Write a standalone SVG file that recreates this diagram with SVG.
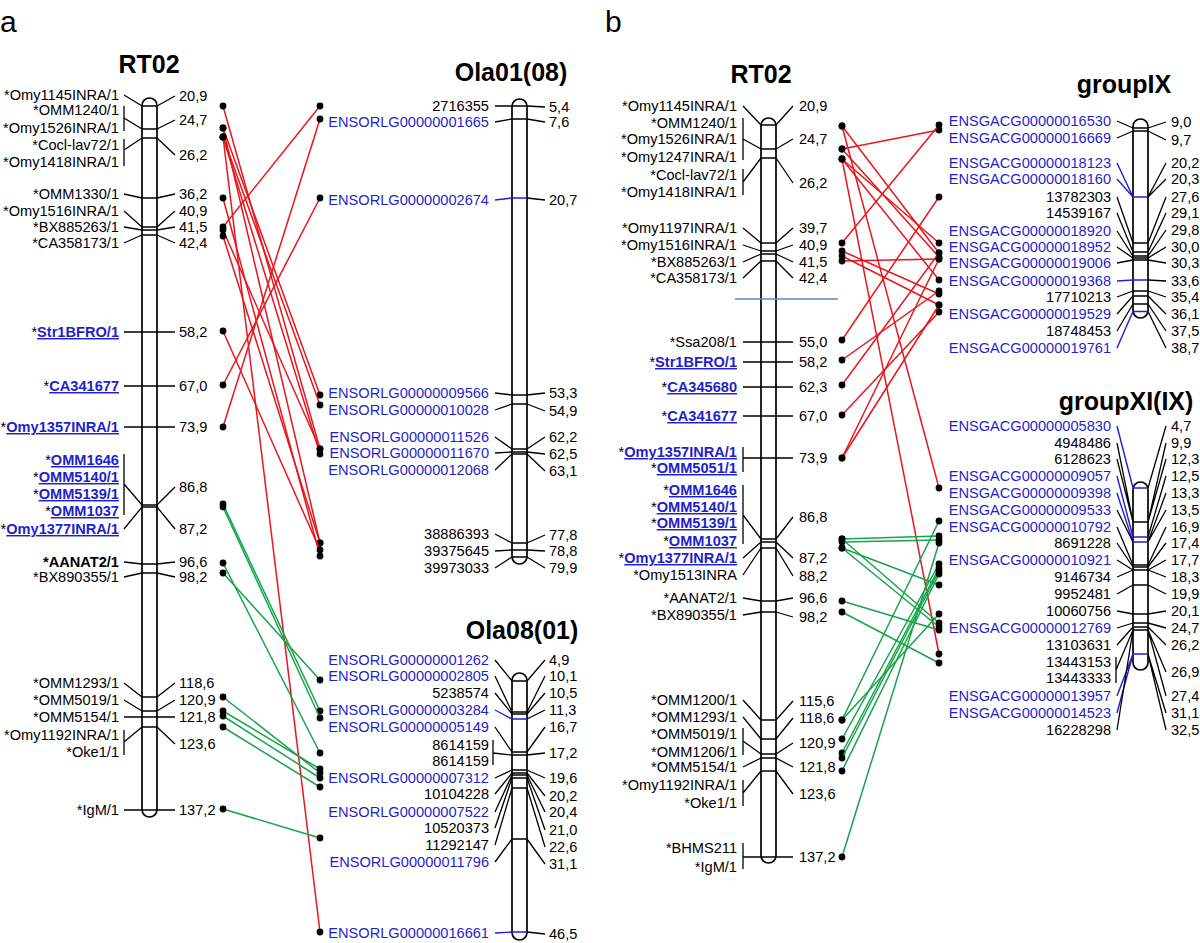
<svg xmlns="http://www.w3.org/2000/svg" width="1200" height="943" viewBox="0 0 1200 943">
<style>
text{font-family:"Liberation Sans",Arial,Helvetica,sans-serif;font-size:14.6px;fill:#000}
.e{text-anchor:end}
.m{text-anchor:middle}
.bl{fill:#1f1fcc}
.lk{fill:#1f1fcc;font-weight:bold;text-decoration:underline}
.bd{font-weight:bold}
.ttl{font-size:25px;font-weight:bold}
.pl{font-size:30px}
.chr{fill:#fff;stroke:#000;stroke-width:1.7}
.k{stroke:#000;stroke-width:1.3;fill:none}
.kb{stroke:#1f1fcc;stroke-width:1.4;fill:none}
.r{stroke:#e8161c;stroke-width:1.5;fill:none}
.g{stroke:#17a34a;stroke-width:1.5;fill:none}
.sb{stroke:#5a86c0;stroke-width:1.5}
</style>
<defs>
<marker id="dot" viewBox="-4 -4 8 8" markerWidth="8" markerHeight="8" markerUnits="userSpaceOnUse"><circle r="3.4" fill="#000"/></marker>
</defs>
<text class="pl" x="0" y="32">a</text>
<text class="pl" x="605" y="32">b</text>

<!-- Panel a: RT02 -->
<g id="a-RT02">
<text class="ttl m" x="149" y="73">RT02</text>
<path class="chr" d="M142,105.5A7.5,7.5 0 0 1 157,105.5V809.5A7.5,7.5 0 0 1 142,809.5Z"/>
<path class="k" d="M142,106H157M142,129H157M142,138H157M142,198H157M142,227H157M142,230H157M142,235H157M142,505H157M142,507H157M142,564H157M142,573H157M142,697H157M142,711H157M142,727H157"/>
<path class="k" d="M124,95L142,106M124,106V131M124,118L142,129M124,139V166M124,150L142,138M124,194L142,198M124,211L142,227M124,227L142,230M124,243L142,235M124,332H175M124,386H175M124,427H175M124,454V515M124,484L142,505M124,529L142,507M124,562L142,564M124,577L142,573M124,683L142,697M124,700L142,711M124,717H175M124,730V755M124,742L142,727M124,810H175"/>
<path class="k" d="M157,106L175,96M157,129L175,120M157,138L175,155M157,198L175,194M157,227L175,211M157,230L175,227M157,235L175,243M157,505L175,487M157,507L175,529M157,564L175,562M157,573L175,577M157,697L175,683M157,711L175,700M157,727L175,744"/>
<text class="e" x="119" y="100">*Omy1145INRA/1</text>
<text class="e" x="119" y="115">*OMM1240/1</text>
<text class="e" x="119" y="133">*Omy1526INRA/1</text>
<text class="e" x="119" y="150">*Cocl-lav72/1</text>
<text class="e" x="119" y="167">*Omy1418INRA/1</text>
<text class="e" x="119" y="199">*OMM1330/1</text>
<text class="e" x="119" y="216">*Omy1516INRA/1</text>
<text class="e" x="119" y="232">*BX885263/1</text>
<text class="e" x="119" y="248">*CA358173/1</text>
<text class="e" x="119" y="337">*<tspan class="lk">Str1BFRO/1</tspan></text>
<text class="e" x="119" y="391">*<tspan class="lk">CA341677</tspan></text>
<text class="e" x="119" y="432">*<tspan class="lk">Omy1357INRA/1</tspan></text>
<text class="e" x="119" y="465">*<tspan class="lk">OMM1646</tspan></text>
<text class="e" x="119" y="482">*<tspan class="lk">OMM5140/1</tspan></text>
<text class="e" x="119" y="499">*<tspan class="lk">OMM5139/1</tspan></text>
<text class="e" x="119" y="516">*<tspan class="lk">OMM1037</tspan></text>
<text class="e" x="119" y="534">*<tspan class="lk">Omy1377INRA/1</tspan></text>
<text class="e bd" x="119" y="567">*AANAT2/1</text>
<text class="e" x="119" y="582">*BX890355/1</text>
<text class="e" x="119" y="688">*OMM1293/1</text>
<text class="e" x="119" y="705">*OMM5019/1</text>
<text class="e" x="119" y="722">*OMM5154/1</text>
<text class="e" x="119" y="740">*Omy1192INRA/1</text>
<text class="e" x="119" y="757">*Oke1/1</text>
<text class="e" x="119" y="815">*IgM/1</text>
<text x="179" y="101">20,9</text>
<text x="179" y="125">24,7</text>
<text x="179" y="160">26,2</text>
<text x="179" y="199">36,2</text>
<text x="179" y="216">40,9</text>
<text x="179" y="232">41,5</text>
<text x="179" y="248">42,4</text>
<text x="179" y="337">58,2</text>
<text x="179" y="391">67,0</text>
<text x="179" y="432">73,9</text>
<text x="179" y="492">86,8</text>
<text x="179" y="534">87,2</text>
<text x="179" y="567">96,6</text>
<text x="179" y="582">98,2</text>
<text x="179" y="688">118,6</text>
<text x="179" y="705">120,9</text>
<text x="179" y="722">121,8</text>
<text x="179" y="749">123,6</text>
<text x="179" y="815">137,2</text>
</g>

<!-- Panel a: Ola01(08) -->
<g id="a-Ola01">
<text class="ttl m" x="511" y="81">Ola01(08)</text>
<path class="chr" d="M512,106.5A7.5,7.5 0 0 1 527,106.5V556.5A7.5,7.5 0 0 1 512,556.5Z"/>
<path class="k" d="M512,106H527M512,119H527M512,395H527M512,404H527M512,449H527M512,452H527M512,454H527M512,543H527M512,550H527M512,557H527"/>
<path class="kb" d="M495,200L512,198H527"/>
<path class="k" d="M495,106L512,106M495,122L512,119M495,393L512,395M495,410L512,404M495,437L512,449M495,453L512,452M495,470L512,454M495,534L512,543M495,551L512,550M495,568L512,557"/>
<path class="k" d="M527,106L545,107M527,119L545,122M527,198L545,200M527,395L545,393M527,404L545,411M527,449L545,437M527,452L545,454M527,454L545,471M527,543L545,535M527,550L545,551M527,557L545,568"/>
<text class="e" x="489" y="111">2716355</text>
<text class="e bl" x="489" y="127">ENSORLG00000001665</text>
<text class="e bl" x="489" y="205">ENSORLG00000002674</text>
<text class="e bl" x="489" y="398">ENSORLG00000009566</text>
<text class="e bl" x="489" y="415">ENSORLG00000010028</text>
<text class="e bl" x="489" y="442">ENSORLG00000011526</text>
<text class="e bl" x="489" y="458">ENSORLG00000011670</text>
<text class="e bl" x="489" y="475">ENSORLG00000012068</text>
<text class="e" x="489" y="539">38886393</text>
<text class="e" x="489" y="556">39375645</text>
<text class="e" x="489" y="573">39973033</text>
<text x="549" y="112">5,4</text>
<text x="549" y="127">7,6</text>
<text x="549" y="205">20,7</text>
<text x="549" y="398">53,3</text>
<text x="549" y="416">54,9</text>
<text x="549" y="442">62,2</text>
<text x="549" y="459">62,5</text>
<text x="549" y="476">63,1</text>
<text x="549" y="540">77,8</text>
<text x="549" y="556">78,8</text>
<text x="549" y="573">79,9</text>
</g>

<!-- Panel a: Ola08(01) -->
<g id="a-Ola08">
<text class="ttl m" x="522" y="639">Ola08(01)</text>
<path class="chr" d="M512,680.5A7.5,7.5 0 0 1 527,680.5V932.5A7.5,7.5 0 0 1 512,932.5Z"/>
<path class="k" d="M512,681H527M512,712H527M512,714H527M512,752H527M512,755H527M512,770H527M512,773H527M512,775H527M512,778H527M512,788H527M512,839H527"/>
<path class="kb" d="M495,710L512,719H527M495,933L512,932H527"/>
<path class="k" d="M495,660L512,681M495,676L512,712M495,693L512,714M495,727L512,752M493,740V765M493,753L512,755M495,778L512,770M495,794L512,773M495,812L512,775M495,828L512,778M495,845L512,788M495,862L512,839"/>
<path class="k" d="M527,681L545,660M527,712L545,676M527,714L545,693M527,719L545,710M527,752L545,727M527,755L545,753M527,770L545,778M527,773L545,796M527,775L545,812M527,778L545,830M527,788L545,847M527,839L545,864M527,932L545,934"/>
<text class="e bl" x="489" y="665">ENSORLG00000001262</text>
<text class="e bl" x="489" y="681">ENSORLG00000002805</text>
<text class="e" x="489" y="698">5238574</text>
<text class="e bl" x="489" y="715">ENSORLG00000003284</text>
<text class="e bl" x="489" y="732">ENSORLG00000005149</text>
<text class="e" x="489" y="750">8614159</text>
<text class="e" x="489" y="766">8614159</text>
<text class="e bl" x="489" y="783">ENSORLG00000007312</text>
<text class="e" x="489" y="799">10104228</text>
<text class="e bl" x="489" y="817">ENSORLG00000007522</text>
<text class="e" x="489" y="833">10520373</text>
<text class="e" x="489" y="850">11292147</text>
<text class="e bl" x="489" y="867">ENSORLG00000011796</text>
<text class="e bl" x="489" y="938">ENSORLG00000016661</text>
<text x="549" y="665">4,9</text>
<text x="549" y="681">10,1</text>
<text x="549" y="698">10,5</text>
<text x="549" y="715">11,3</text>
<text x="549" y="732">16,7</text>
<text x="549" y="758">17,2</text>
<text x="549" y="783">19,6</text>
<text x="549" y="801">20,2</text>
<text x="549" y="817">20,4</text>
<text x="549" y="835">21,0</text>
<text x="549" y="852">22,6</text>
<text x="549" y="869">31,1</text>
<text x="549" y="939">46,5</text>
</g>

<!-- Panel b: RT02 -->
<g id="b-RT02">
<text class="ttl m" x="761" y="83">RT02</text>
<path class="chr" d="M761,125.5A7.5,7.5 0 0 1 776,125.5V855.5A7.5,7.5 0 0 1 761,855.5Z"/>
<path class="k" d="M761,125H776M761,149H776M761,158H776M761,243H776M761,251H776M761,254H776M761,261H776M761,539H776M761,542H776M761,548H776M761,601H776M761,612H776M761,720H776M761,739H776M761,754H776M761,758H776M761,771H776"/>
<path class="k" d="M743,106L761,125M743,118V160M743,139L761,149M743,169V195M743,182L761,158M743,228L761,243M743,245L761,251M743,262L761,254M743,278L761,261M743,342H793M743,362H793M743,387H793M743,416H793M743,447V472M743,458H793M743,485V544M743,515L761,539M743,558L761,542M743,575L761,548M743,598L761,601M743,615L761,612M743,700L761,720M743,717L761,739M743,728V755M743,741L761,754M743,767L761,758M743,780V806M743,793L761,771M743,843V869M743,857H793"/>
<path class="k" d="M776,125L793,106M776,149L793,139M776,158L793,183M776,243L793,228M776,251L793,245M776,254L793,262M776,261L793,278M776,539L793,517M776,542L793,558M776,548L793,576M776,601L793,598M776,612L793,617M776,720L793,701M776,739L793,718M776,754L793,743M776,758L793,767M776,771L793,794"/>
<line class="sb" x1="735" y1="299" x2="838" y2="299"/>
<text class="e" x="737" y="111">*Omy1145INRA/1</text>
<text class="e" x="737" y="128">*OMM1240/1</text>
<text class="e" x="737" y="144">*Omy1526INRA/1</text>
<text class="e" x="737" y="162">*Omy1247INRA/1</text>
<text class="e" x="737" y="180">*Cocl-lav72/1</text>
<text class="e" x="737" y="197">*Omy1418INRA/1</text>
<text class="e" x="737" y="233">*Omy1197INRA/1</text>
<text class="e" x="737" y="250">*Omy1516INRA/1</text>
<text class="e" x="737" y="267">*BX885263/1</text>
<text class="e" x="737" y="283">*CA358173/1</text>
<text class="e" x="737" y="347">*Ssa208/1</text>
<text class="e" x="737" y="367">*<tspan class="lk">Str1BFRO/1</tspan></text>
<text class="e" x="737" y="392">*<tspan class="lk">CA345680</tspan></text>
<text class="e" x="737" y="421">*<tspan class="lk">CA341677</tspan></text>
<text class="e" x="737" y="457">*<tspan class="lk">Omy1357INRA/1</tspan></text>
<text class="e" x="737" y="473">*<tspan class="lk">OMM5051/1</tspan></text>
<text class="e" x="737" y="495">*<tspan class="lk">OMM1646</tspan></text>
<text class="e" x="737" y="512">*<tspan class="lk">OMM5140/1</tspan></text>
<text class="e" x="737" y="528">*<tspan class="lk">OMM5139/1</tspan></text>
<text class="e" x="737" y="546">*<tspan class="lk">OMM1037</tspan></text>
<text class="e" x="737" y="563">*<tspan class="lk">Omy1377INRA/1</tspan></text>
<text class="e" x="737" y="580">*Omy1513INRA</text>
<text class="e" x="737" y="603">*AANAT2/1</text>
<text class="e" x="737" y="620">*BX890355/1</text>
<text class="e" x="737" y="705">*OMM1200/1</text>
<text class="e" x="737" y="722">*OMM1293/1</text>
<text class="e" x="737" y="739">*OMM5019/1</text>
<text class="e" x="737" y="757">*OMM1206/1</text>
<text class="e" x="737" y="772">*OMM5154/1</text>
<text class="e" x="737" y="790">*Omy1192INRA/1</text>
<text class="e" x="737" y="808">*Oke1/1</text>
<text class="e" x="737" y="853">*BHMS211</text>
<text class="e" x="737" y="872">*IgM/1</text>
<text x="799" y="111">20,9</text>
<text x="799" y="144">24,7</text>
<text x="799" y="188">26,2</text>
<text x="799" y="233">39,7</text>
<text x="799" y="250">40,9</text>
<text x="799" y="267">41,5</text>
<text x="799" y="283">42,4</text>
<text x="799" y="347">55,0</text>
<text x="799" y="367">58,2</text>
<text x="799" y="392">62,3</text>
<text x="799" y="421">67,0</text>
<text x="799" y="463">73,9</text>
<text x="799" y="522">86,8</text>
<text x="799" y="563">87,2</text>
<text x="799" y="581">88,2</text>
<text x="799" y="603">96,6</text>
<text x="799" y="622">98,2</text>
<text x="799" y="706">115,6</text>
<text x="799" y="723">118,6</text>
<text x="799" y="748">120,9</text>
<text x="799" y="772">121,8</text>
<text x="799" y="799">123,6</text>
<text x="799" y="862">137,2</text>
</g>

<!-- Panel b: groupIX -->
<g id="b-groupIX">
<text class="ttl m" x="1124" y="93">groupIX</text>
<path class="chr" d="M1133,126.5A7.5,7.5 0 0 1 1148,126.5V310.5A7.5,7.5 0 0 1 1133,310.5Z"/>
<path class="k" d="M1133,128H1148M1133,131H1148M1133,243H1148M1133,252H1148M1133,256H1148M1133,258H1148M1133,260H1148M1133,291H1148M1133,296H1148M1133,304H1148"/>
<path class="kb" d="M1117,163L1133,197M1117,179L1133,197M1133,197H1148M1117,281L1133,280H1148M1117,348L1133,311.5H1148"/>
<path class="k" d="M1117,121L1133,128M1117,138L1133,131M1117,197L1133,243M1117,213L1133,252M1117,231L1133,256M1117,247L1133,258M1117,263L1133,260M1117,297L1133,291M1117,314L1133,296M1117,331L1133,304"/>
<path class="k" d="M1148,128L1166,122M1148,131L1166,140M1148,197L1166,163M1148,197L1166,179M1148,243L1166,197M1148,252L1166,213M1148,256L1166,230M1148,258L1166,247M1148,260L1166,263M1148,280L1166,281M1148,291L1166,297M1148,296L1166,314M1148,304L1166,331M1148,311.5L1166,348"/>
<text class="e bl" x="1111" y="126">ENSGACG00000016530</text>
<text class="e bl" x="1111" y="143">ENSGACG00000016669</text>
<text class="e bl" x="1111" y="168">ENSGACG00000018123</text>
<text class="e bl" x="1111" y="184">ENSGACG00000018160</text>
<text class="e" x="1111" y="202">13782303</text>
<text class="e" x="1111" y="218">14539167</text>
<text class="e bl" x="1111" y="236">ENSGACG00000018920</text>
<text class="e bl" x="1111" y="252">ENSGACG00000018952</text>
<text class="e bl" x="1111" y="268">ENSGACG00000019006</text>
<text class="e bl" x="1111" y="286">ENSGACG00000019368</text>
<text class="e" x="1111" y="302">17710213</text>
<text class="e bl" x="1111" y="319">ENSGACG00000019529</text>
<text class="e" x="1111" y="336">18748453</text>
<text class="e bl" x="1111" y="353">ENSGACG00000019761</text>
<text x="1171" y="127">9,0</text>
<text x="1171" y="145">9,7</text>
<text x="1171" y="168">20,2</text>
<text x="1171" y="184">20,3</text>
<text x="1171" y="202">27,6</text>
<text x="1171" y="218">29,1</text>
<text x="1171" y="235">29,8</text>
<text x="1171" y="252">30,0</text>
<text x="1171" y="268">30,3</text>
<text x="1171" y="286">33,6</text>
<text x="1171" y="302">35,4</text>
<text x="1171" y="319">36,1</text>
<text x="1171" y="336">37,5</text>
<text x="1171" y="353">38,7</text>
</g>

<!-- Panel b: groupXI(IX) -->
<g id="b-groupXI">
<text class="ttl m" x="1126" y="410">groupXI(IX)</text>
<path class="chr" d="M1133,489.5A7.5,7.5 0 0 1 1148,489.5V662.5A7.5,7.5 0 0 1 1133,662.5Z"/>
<path class="k" d="M1133,522H1148M1133,565H1148M1133,567H1148M1133,570H1148M1133,585H1148M1133,614H1148M1133,623H1148M1133,627H1148M1133,630H1148"/>
<path class="kb" d="M1117,426L1133,488H1148M1117,476L1133,537H1148M1117,493L1133,542H1148M1117,696L1133,654H1148M1117,713L1133,654"/>
<path class="k" d="M1117,443L1133,522M1117,459L1133,522M1117,510L1133,542M1117,527L1133,565M1117,543L1133,567M1117,560L1133,570M1117,577L1133,570M1117,594L1133,585M1117,611L1133,614M1117,628L1133,623M1117,645L1133,627M1116,657V683M1116,670L1133,630M1117,730L1133,630"/>
<path class="k" d="M1148,488L1166,426M1148,522L1166,443M1148,522L1166,459M1148,537L1166,476M1148,542L1166,493M1148,542L1166,510M1148,565L1166,527M1148,567L1166,543M1148,570L1166,560M1148,570L1166,577M1148,585L1166,594M1148,614L1166,611M1148,623L1166,628M1148,627L1166,645M1148,630L1166,672M1148,630L1166,696M1148,654L1166,713M1148,654L1166,730"/>
<text class="e bl" x="1111" y="431">ENSGACG00000005830</text>
<text class="e" x="1111" y="448">4948486</text>
<text class="e" x="1111" y="464">6128623</text>
<text class="e bl" x="1111" y="481">ENSGACG00000009057</text>
<text class="e bl" x="1111" y="498">ENSGACG00000009398</text>
<text class="e bl" x="1111" y="515">ENSGACG00000009533</text>
<text class="e bl" x="1111" y="532">ENSGACG00000010792</text>
<text class="e" x="1111" y="548">8691228</text>
<text class="e bl" x="1111" y="565">ENSGACG00000010921</text>
<text class="e" x="1111" y="582">9146734</text>
<text class="e" x="1111" y="599">9952481</text>
<text class="e" x="1111" y="616">10060756</text>
<text class="e bl" x="1111" y="633">ENSGACG00000012769</text>
<text class="e" x="1111" y="650">13103631</text>
<text class="e" x="1111" y="667">13443153</text>
<text class="e" x="1111" y="683">13443333</text>
<text class="e bl" x="1111" y="701">ENSGACG00000013957</text>
<text class="e bl" x="1111" y="718">ENSGACG00000014523</text>
<text class="e" x="1111" y="735">16228298</text>
<text x="1171" y="431">4,7</text>
<text x="1171" y="448">9,9</text>
<text x="1171" y="464">12,3</text>
<text x="1171" y="481">12,5</text>
<text x="1171" y="498">13,3</text>
<text x="1171" y="515">13,5</text>
<text x="1171" y="532">16,9</text>
<text x="1171" y="548">17,4</text>
<text x="1171" y="565">17,7</text>
<text x="1171" y="582">18,3</text>
<text x="1171" y="599">19,9</text>
<text x="1171" y="616">20,1</text>
<text x="1171" y="633">24,7</text>
<text x="1171" y="650">26,2</text>
<text x="1171" y="677">26,9</text>
<text x="1171" y="701">27,4</text>
<text x="1171" y="718">31,1</text>
<text x="1171" y="735">32,5</text>
</g>

<!-- Connectors -->
<g id="connectors" marker-start="url(#dot)" marker-end="url(#dot)">
<line class="r" x1="223" y1="106" x2="320" y2="449"/>
<line class="r" x1="223" y1="128" x2="320" y2="395"/>
<line class="r" x1="223" y1="128" x2="320" y2="543"/>
<line class="r" x1="223" y1="137" x2="320" y2="405"/>
<line class="r" x1="223" y1="137" x2="320" y2="454"/>
<line class="r" x1="223" y1="137" x2="320" y2="932"/>
<line class="r" x1="223" y1="198" x2="320" y2="556"/>
<line class="r" x1="223" y1="227" x2="320" y2="106"/>
<line class="r" x1="223" y1="230" x2="320" y2="449"/>
<line class="r" x1="223" y1="236" x2="320" y2="543"/>
<line class="r" x1="223" y1="331" x2="320" y2="550"/>
<line class="r" x1="223" y1="385" x2="320" y2="198"/>
<line class="r" x1="223" y1="427" x2="320" y2="119"/>
<line class="g" x1="223" y1="504" x2="320" y2="711"/>
<line class="g" x1="223" y1="507" x2="320" y2="718"/>
<line class="g" x1="223" y1="563" x2="320" y2="753"/>
<line class="g" x1="223" y1="573" x2="320" y2="680"/>
<line class="g" x1="223" y1="697" x2="320" y2="773"/>
<line class="g" x1="223" y1="711" x2="320" y2="769"/>
<line class="g" x1="223" y1="716" x2="320" y2="778"/>
<line class="g" x1="223" y1="727" x2="320" y2="787"/>
<line class="g" x1="223" y1="809" x2="320" y2="838"/>
<line class="r" x1="842" y1="126" x2="939" y2="488"/>
<line class="r" x1="842" y1="126" x2="939" y2="253"/>
<line class="r" x1="842" y1="149" x2="939" y2="130"/>
<line class="r" x1="842" y1="149" x2="939" y2="257"/>
<line class="r" x1="842" y1="159" x2="939" y2="654"/>
<line class="r" x1="842" y1="159" x2="939" y2="280"/>
<line class="r" x1="842" y1="159" x2="939" y2="243"/>
<line class="r" x1="842" y1="243" x2="939" y2="125"/>
<line class="r" x1="842" y1="251" x2="939" y2="294"/>
<line class="r" x1="842" y1="256" x2="939" y2="305"/>
<line class="r" x1="842" y1="261" x2="939" y2="259"/>
<line class="r" x1="842" y1="340" x2="939" y2="197"/>
<line class="r" x1="842" y1="360" x2="939" y2="291"/>
<line class="r" x1="842" y1="385" x2="939" y2="253"/>
<line class="r" x1="842" y1="415" x2="939" y2="312"/>
<line class="r" x1="842" y1="458" x2="939" y2="259"/>
<line class="r" x1="842" y1="458" x2="939" y2="305"/>
<line class="g" x1="842" y1="539" x2="939" y2="536"/>
<line class="g" x1="842" y1="542" x2="939" y2="540"/>
<line class="g" x1="842" y1="539" x2="939" y2="623"/>
<line class="g" x1="842" y1="548" x2="939" y2="627"/>
<line class="g" x1="842" y1="548" x2="939" y2="585"/>
<line class="g" x1="842" y1="601" x2="939" y2="630"/>
<line class="g" x1="842" y1="612" x2="939" y2="663"/>
<line class="g" x1="842" y1="720" x2="939" y2="521"/>
<line class="g" x1="842" y1="739" x2="939" y2="564"/>
<line class="g" x1="842" y1="753" x2="939" y2="568"/>
<line class="g" x1="842" y1="758" x2="939" y2="571"/>
<line class="g" x1="842" y1="771" x2="939" y2="574"/>
<line class="g" x1="842" y1="857" x2="939" y2="543"/>
<line class="g" x1="842" y1="720" x2="939" y2="614"/>
</g>
</svg>
